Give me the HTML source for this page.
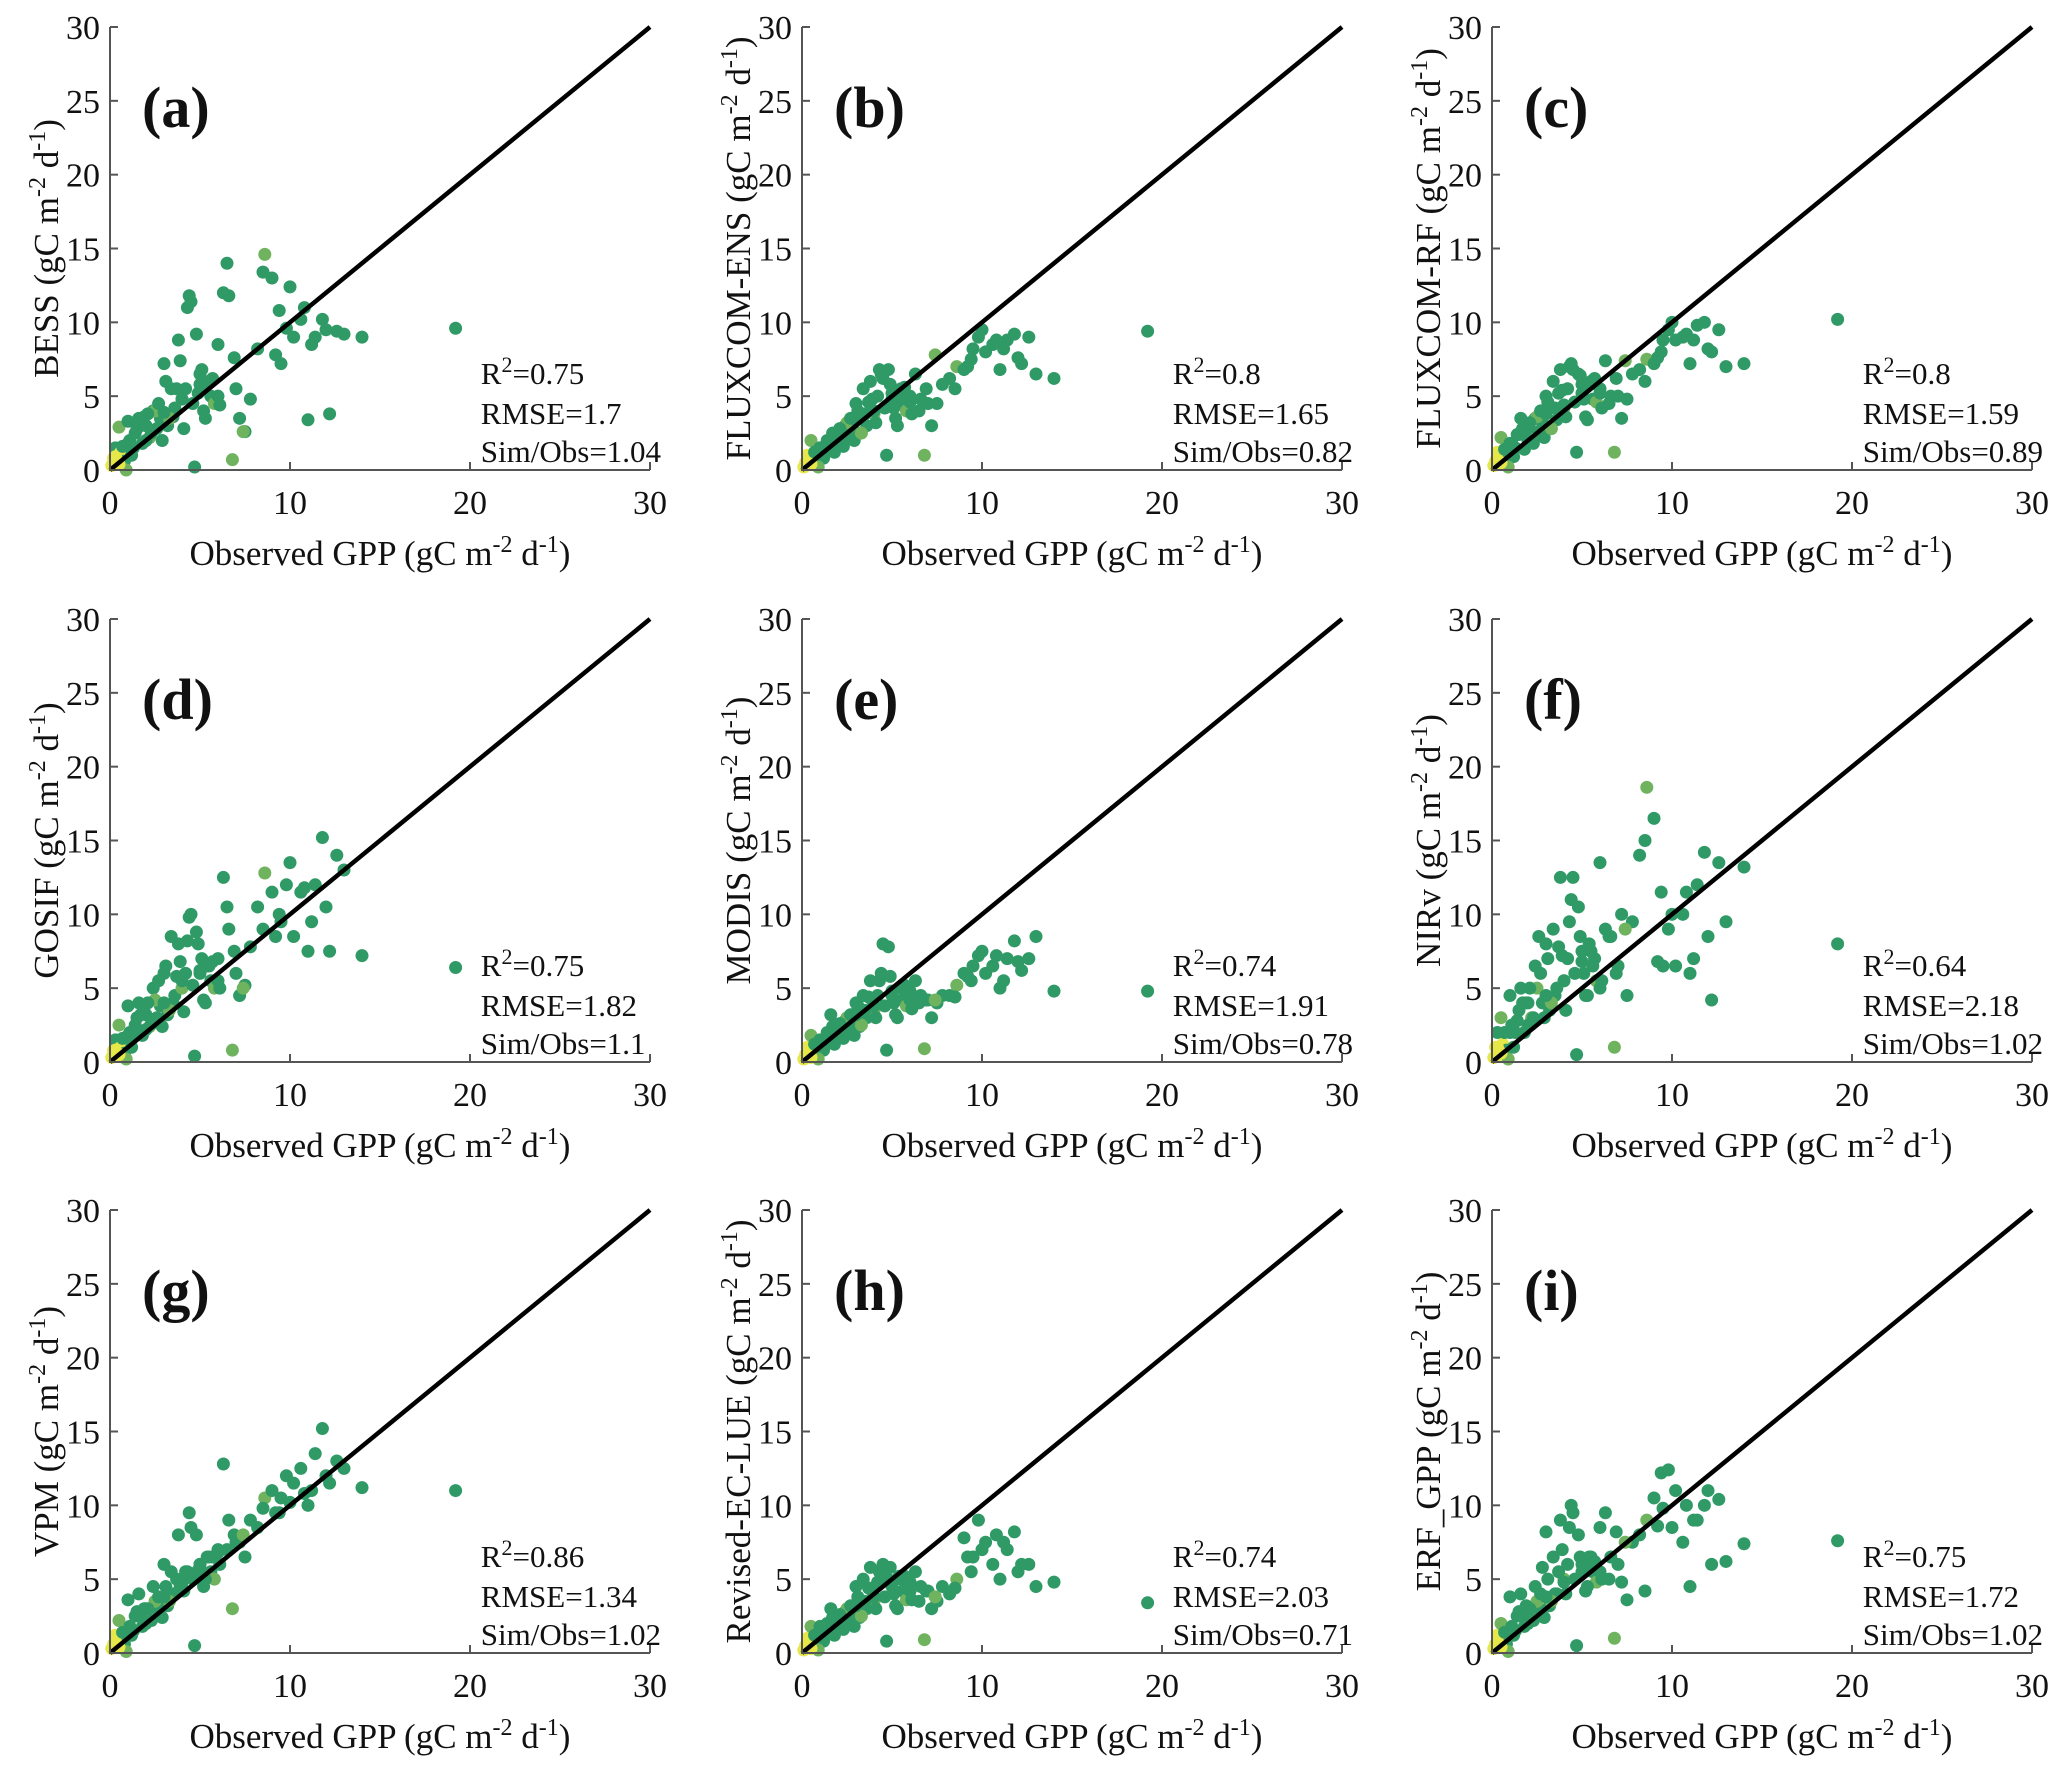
<!DOCTYPE html>
<html><head><meta charset="utf-8">
<style>
html,body{margin:0;padding:0;background:#fff;}
svg{display:block;font-family:"Liberation Serif","Times New Roman",serif;}
</style></head>
<body>
<svg id="fig" width="2067" height="1772" viewBox="0 0 2067 1772" xmlns="http://www.w3.org/2000/svg"></svg>
<script>
const obs = [0.1,0.2,0.3,0.4,0.5,0.6,0.8,1.0,1.2,1.4,1.6,1.8,2.0,2.2,2.4,2.6,2.8,3.0,3.2,3.4,3.6,3.8,4.0,4.2,4.4,4.6,4.8,5.0,5.2,5.4,5.6,5.8,6.0,6.3,6.6,6.9,7.2,7.5,7.8,8.2,8.6,9.0,9.4,9.8,10.2,10.6,11.0,11.4,11.8,12.2,12.6,13.0,14.0,19.2,0.3,0.7,1.1,1.5,2.5,3.5,4.5,5.5,6.5,4.3,3.9,2.9,1.9,0.9,8.5,9.5,1.3,1.7,2.1,2.3,2.7,3.1,3.3,3.7,4.1,4.7,4.9,5.1,5.3,5.7,6.1,6.8,7.0,3.0,4.0,5.0,2.0,1.0,0.5,6.0,7.4,10.0,11.2,12.0,9.2,10.8];
const simBESS = [0.3,0.8,1.5,0.5,2.9,1.2,0.6, 3.3,1.0,2.5,3.5,1.8,3.0,2.2,4.0,2.8,3.5, 7.2,3.0,5.5,4.2,8.8,4.8,5.5,11.8,4.5,9.2,6.5,4.0,5.8,5.0,4.5, 8.5,12.0,11.8,7.6,3.5,2.6,4.8, 8.2,14.6,13.0,10.8,9.6,9.0,10.2,3.4,9.0,10.2,3.8,9.4,9.2,9.0, 9.6, 0.9,1.6,2.0,2.8,4.0,3.6,11.4,6.0,14.0,11.0,7.4,2.0,3.6,0.0,13.4,7.2, 1.5,3.0,3.8,2.5,4.5,6.0,3.5,5.5,2.8,0.2,5.2,6.8,3.5,6.2,4.4,0.7,5.5,3.9,4.8,5.8,2.0,1.8,0.4,5.0,2.6,12.4,8.5,9.5,7.8,11.0];
const simENS = [0.2,0.5,1.0,0.4,2.0,0.8,0.5, 1.5,0.8,2.0,1.5,1.2,2.5,1.8,3.0,2.2,2.8, 4.5,2.5,5.5,3.0,6.0,3.8,5.0,6.5,4.2,6.8,4.8,3.5,5.2,4.5,4.0, 5.0,6.5,4.8,5.5,3.0,4.5,5.8, 6.2,7.0,6.8,7.5,9.0,8.0,8.5,6.8,8.8,9.2,7.2,9.0,6.5,6.2, 9.4, 0.6,1.2,1.5,2.0,3.2,3.8,6.2,5.5,4.0,6.8,4.8,2.0,2.5,0.2,5.5,8.2, 1.2,2.5,2.8,1.6,3.5,4.0,2.5,4.6,3.2,1.0,5.8,4.2,3.0,5.6,3.8,1.0,4.5,3.4,4.0,5.2,1.8,1.5,0.4,4.6,7.8,9.5,8.2,7.6,7.0,8.8];
const simRF = [0.3,0.6,1.2,0.5,2.2,0.9,0.6, 1.8,0.9,2.4,3.5,1.4,2.8,2.0,3.5,2.6,3.2, 5.0,2.8,6.0,3.4,6.8,4.2,5.5,7.2,4.6,6.5,5.2,3.6,5.8,4.8,4.6, 5.5,7.4,5.0,6.2,3.5,4.8,6.5, 6.8,7.5,7.2,8.0,9.5,8.8,9.0,7.2,9.8,10.0,8.0,9.5,7.0,7.2, 10.2, 0.7,1.4,1.8,2.4,3.6,4.2,6.8,6.0,4.5,7.0,5.4,2.2,2.8,0.2,6.0,8.8, 1.5,2.8,3.2,1.8,4.0,4.6,2.8,5.2,3.6,1.2,6.4,4.8,3.4,6.2,4.2,1.2,5.0,3.8,4.4,5.8,2.0,1.6,0.5,5.2,7.4,10.0,8.8,8.2,7.6,9.2];
const simGOSIF = [0.3,0.8,1.5,0.6,2.5,1.0,0.6, 3.8,1.0,2.5,4.0,1.8,3.2,2.4,5.0,3.0,3.8, 6.0,3.2,8.5,4.5,8.0,5.0,6.0,9.8,5.2,8.8,6.0,4.2,6.5,5.5,5.0, 7.0,12.5,9.0,7.5,4.5,5.2,7.8, 10.5,12.8,11.5,10.0,12.0,8.5,11.5,7.5,12.0,15.2,7.5,14.0,13.0,7.2, 6.4, 0.8,1.6,2.0,3.0,4.2,4.0,10.0,6.5,10.5,8.2,6.8,2.4,3.4,0.2,9.0,9.5, 1.8,3.2,4.0,2.6,5.5,6.5,3.5,5.8,3.4,0.4,8.0,7.0,4.0,6.8,5.0,0.8,6.0,4.0,5.5,6.2,2.2,1.8,0.5,5.5,5.0,13.5,9.5,10.5,8.5,11.8];
const simMODIS = [0.2,0.5,1.0,0.4,1.8,0.7,0.5, 1.5,0.8,2.0,3.2,1.2,2.2,1.8,2.8,2.0,2.6, 4.0,2.4,4.5,3.0,5.5,3.5,4.5,6.0,3.8,7.8,4.5,3.2,5.0,4.2,3.8, 4.8,5.5,4.5,4.2,3.0,4.0,4.5, 4.5,5.2,6.0,5.5,7.2,6.0,6.5,5.0,7.0,8.2,6.2,7.0,8.5,4.8, 4.8, 0.6,1.2,1.5,2.0,3.0,3.5,8.0,5.0,4.0,5.5,4.2,1.8,2.4,0.2,4.4,6.5, 1.2,2.4,2.6,1.6,3.2,3.8,2.5,4.4,3.0,0.8,5.8,4.0,3.0,5.2,3.6,0.9,4.2,3.2,3.8,4.8,1.6,1.4,0.3,4.2,4.2,7.5,5.5,6.8,5.8,7.2];
const simNIRv = [0.3,1.0,2.0,0.5,3.0,1.2,0.8, 4.5,1.0,2.8,5.0,2.0,4.0,3.0,6.5,8.5,4.0, 8.0,3.5,9.0,5.0,12.5,5.5,7.0,11.0,6.0,10.5,7.5,4.5,8.0,6.5,5.5, 13.5,9.0,8.5,6.0,10.0,4.5,9.5, 14.0,18.6,16.5,11.5,9.0,6.5,10.0,6.0,12.0,14.2,4.2,13.5,9.5,13.2, 8.0, 1.0,2.0,2.5,3.5,5.0,4.5,12.5,7.5,8.5,9.5,7.2,3.0,4.0,0.2,15.0,6.5, 2.0,4.0,5.0,3.0,6.0,7.0,4.0,7.8,3.5,0.5,8.5,6.0,4.5,7.0,5.5,1.0,6.5,4.5,5.5,6.8,2.5,2.0,0.6,5.0,9.0,10.0,7.0,8.5,6.8,11.5];
const simVPM = [0.3,0.6,1.2,0.5,2.2,0.9,0.6, 3.6,1.2,2.5,4.0,1.8,3.0,2.4,4.5,3.0,3.6, 6.0,3.2,5.5,4.0,8.0,4.5,5.5,9.5,5.0,8.0,6.0,4.5,6.5,5.5,5.0, 7.0,12.8,9.0,8.0,7.5,6.5,9.0, 8.5,10.5,11.0,9.5,12.0,11.5,12.5,10.0,13.5,15.2,11.5,13.0,12.5,11.2, 11.0, 0.8,1.4,1.8,2.8,3.5,4.0,8.5,6.5,7.0,5.5,4.5,2.4,3.0,0.1,9.8,10.5, 1.5,2.5,3.0,2.2,3.8,4.5,3.5,5.0,4.2,0.5,5.6,5.5,5.0,6.5,6.0,3.0,7.5,3.8,4.8,6.0,2.0,1.5,0.4,6.8,8.0,10.2,11.0,12.0,9.5,10.8];
const simECLUE = [0.2,0.5,1.0,0.4,1.8,0.7,0.5, 1.8,0.8,2.0,3.0,1.2,2.2,1.8,2.8,2.0,2.6, 4.5,2.4,5.0,3.0,5.8,3.5,4.8,5.5,3.8,5.0,4.5,3.2,5.2,4.2,3.6, 4.8,5.5,4.5,4.2,3.0,3.5,4.5, 4.0,5.0,7.8,5.5,9.0,7.5,6.0,5.0,7.0,8.2,6.0,6.0,4.5,4.8, 3.4, 0.6,1.2,1.5,2.0,3.0,3.5,6.0,5.0,3.5,5.5,4.2,1.8,2.4,0.2,4.4,6.5, 1.2,2.4,2.6,1.6,3.2,3.8,2.5,4.4,3.0,0.8,5.8,4.0,3.0,5.2,3.6,0.9,4.2,3.2,3.8,4.8,1.6,1.4,0.3,4.2,3.8,7.0,7.5,5.5,6.5,8.0];
const simERF = [0.3,0.6,1.2,0.5,2.0,0.9,0.6, 3.8,1.2,2.5,4.0,1.8,3.0,2.4,4.5,3.0,5.8, 8.2,3.2,6.5,4.0,9.0,5.0,6.0,10.0,5.0,8.0,5.5,4.2,6.5,5.5,4.8, 8.5,9.5,6.5,8.2,4.8,3.6,7.5, 8.0,9.0,10.5,12.2,12.4,11.0,7.5,4.5,9.0,10.0,6.0,10.4,6.2,7.4, 7.6, 0.8,1.4,1.8,2.8,3.5,4.0,9.5,6.5,5.0,8.5,7.0,2.4,3.2,0.1,4.2,9.8, 1.5,2.5,3.0,2.2,4.0,5.0,3.5,5.5,4.0,0.5,6.5,6.0,4.5,6.2,5.0,1.0,6.0,3.8,4.8,6.0,2.0,1.5,0.4,5.5,7.5,8.5,9.0,11.0,8.6,10.0];

const panelLetters = ["(a)","(b)","(c)","(d)","(e)","(f)","(g)","(h)","(i)"];
const modelNames = ["BESS","FLUXCOM-ENS","FLUXCOM-RF","GOSIF","MODIS","NIRv","VPM","Revised-EC-LUE","ERF_GPP"];
const simSeries = [simBESS,simENS,simRF,simGOSIF,simMODIS,simNIRv,simVPM,simECLUE,simERF];
const r2Values = ["0.75","0.8","0.8","0.75","0.74","0.64","0.86","0.74","0.75"];
const rmseValues = ["1.7","1.65","1.59","1.82","1.91","2.18","1.34","2.03","1.72"];
const ratioValues = ["1.04","0.82","0.89","1.1","0.78","1.02","1.02","0.71","1.02"];
const xTicks = [0,10,20,30];
const yTicks = [0,5,10,15,20,25,30];

const NS = "http://www.w3.org/2000/svg";
const svg = document.getElementById('fig');
const colX0 = [110, 802, 1492];
const rowTop = [27, 619, 1210];
const PW = 540, PH = 443;

function mk(tag, attrs, parent){
  const e = document.createElementNS(NS, tag);
  for (const k in attrs) e.setAttribute(k, attrs[k]);
  parent.appendChild(e);
  return e;
}
function unitLabel(t, prefix){
  t.appendChild(document.createTextNode(prefix + " (gC m"));
  const s1 = document.createElementNS(NS,'tspan'); s1.setAttribute('baseline-shift','super'); s1.setAttribute('font-size','24'); s1.textContent='-2'; t.appendChild(s1);
  const s2 = document.createElementNS(NS,'tspan'); s2.textContent=' d'; t.appendChild(s2);
  const s3 = document.createElementNS(NS,'tspan'); s3.setAttribute('baseline-shift','super'); s3.setAttribute('font-size','24'); s3.textContent='-1'; t.appendChild(s3);
  const s4 = document.createElementNS(NS,'tspan'); s4.textContent=')'; t.appendChild(s4);
}

for (let p = 0; p < 9; p++) {
  const x0 = colX0[p % 3], top = rowTop[Math.floor(p / 3)], y0 = top + PH;
  const sx = v => x0 + v / 30 * PW;
  const sy = v => y0 - v / 30 * PH;
  const g = mk('g', {}, svg);
  
  

  const pts = mk('g', {}, g);
  
  
  const sim = simSeries[p];
  for (let i = 0; i < obs.length; i++) {
    if (sim[i] === undefined) continue;
    let col = '#2f9a66';
    if (i % 9 === 4 && obs[i] < 10) col = '#6fb35f';
    if (obs[i] < 0.65 && sim[i] < 1.3) col = '#e6e84a';
    const c = mk('circle', {cx: sx(obs[i]), cy: sy(sim[i]), r: 6.5, fill: col}, pts);
    
    
  }
  const ln = mk('line', {x1: sx(0), y1: sy(0), x2: sx(30), y2: sy(30), stroke: '#000', 'stroke-width': 4.5}, g);
  
  

  const ax = mk('path', {d: `M${x0} ${top} L${x0} ${y0} L${x0+PW} ${y0}`, stroke: '#555', 'stroke-width': 2, fill: 'none'}, g);
  
  
  for (const v of yTicks) {
    mk('line', {x1: x0, y1: sy(v), x2: x0 + 8, y2: sy(v), stroke: '#555', 'stroke-width': 2}, g);
    const t = mk('text', {x: x0 - 10, y: sy(v) + 12, 'font-size': 34, 'text-anchor': 'end', fill: '#111'}, g);
    
    
    t.textContent = v;
  }
  for (const v of xTicks) {
    mk('line', {x1: sx(v), y1: y0, x2: sx(v), y2: y0 - 8, stroke: '#555', 'stroke-width': 2}, g);
    const t = mk('text', {x: sx(v), y: y0 + 44, 'font-size': 34, 'text-anchor': 'middle', fill: '#111'}, g);
    
    
    t.textContent = v;
  }
  const xt = mk('text', {x: sx(15), y: y0 + 95, 'font-size': 35, 'text-anchor': 'middle', fill: '#111'}, g);
  
  
  unitLabel(xt, 'Observed GPP');
  const yt = mk('text', {x: 0, y: 0, 'font-size': 35, 'text-anchor': 'middle', fill: '#111', transform: `translate(${x0 - 52},${sy(15)}) rotate(-90)`}, g);
  
  
  unitLabel(yt, modelNames[p]);
  const pl = mk('text', {x: x0 + 32, y: top + 100, 'font-size': 58, 'font-weight': 'bold', fill: '#111'}, g);
  
  
  pl.textContent = panelLetters[p];
  const st = mk('g', {}, g);
  
  
  const sxs = sx(20.6);
  const t1 = mk('text', {x: sxs, y: y0 - 86, 'font-size': 31, fill: '#111'}, st);
  t1.appendChild(document.createTextNode('R'));
  const sup = document.createElementNS(NS,'tspan'); sup.setAttribute('baseline-shift','super'); sup.setAttribute('font-size','22'); sup.textContent='2'; t1.appendChild(sup);
  const rest = document.createElementNS(NS,'tspan'); rest.textContent = '=' + r2Values[p]; t1.appendChild(rest);
  const t2 = mk('text', {x: sxs, y: y0 - 46, 'font-size': 31, fill: '#111'}, st);
  t2.textContent = 'RMSE=' + rmseValues[p];
  const t3 = mk('text', {x: sxs, y: y0 - 8, 'font-size': 31, fill: '#111'}, st);
  t3.textContent = 'Sim/Obs=' + ratioValues[p];
}
</script>
</body></html>
